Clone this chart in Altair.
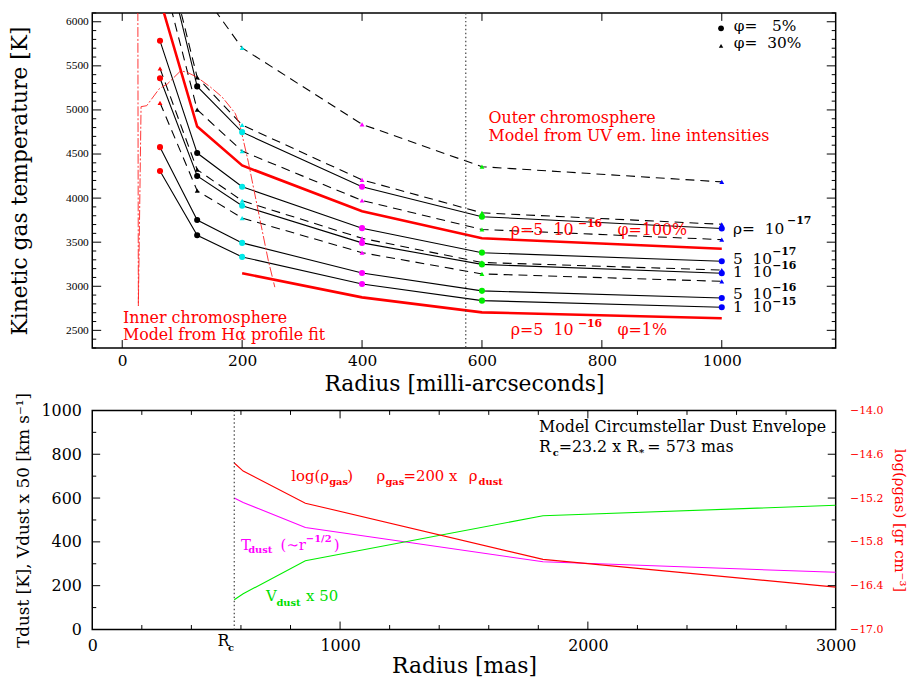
import altair as alt
import pandas as pd

FONT = "DejaVu Serif"
W = 750
H_TOP = 338
H_BOT = 221

# ---------------- top panel data ----------------
radii_mas = [63, 125, 200, 400, 600, 1000]
density_names = ["1e-17", "5e-17", "1e-16", "5e-16", "1e-15"]
# phi = 5 %  (solid lines, circles)
T_phi5 = [
    [7000, 5267, 4748, 4129, 3789, 3656],
    [5784, 4511, 4129, 3659, 3381, 3284],
    [5359, 4251, 3914, 3492, 3248, 3148],
    [4578, 3751, 3492, 3151, 2948, 2867],
    [4307, 3578, 3333, 3026, 2837, 2762],
]
# phi = 30 %  (dashed lines, triangles)
T_phi30 = [
    [None, 6410, 5703, 4837, 4356, 4184],
    [7070, 5370, 4829, 4207, 3833, 3703],
    [6640, 5003, 4533, 3973, 3644, 3529],
    [5470, 4322, 3970, 3544, 3270, 3184],
    [5081, 4084, 3774, 3381, 3140, 3056],
]
T_rho5e16_phi100 = [6254, 4811, 4370, 3852, 3544, 3426]
T_rho5e16_phi1 = [None, None, 3148, 2874, 2704, 2637]
radius_colors = ["#ff0000", "#000000", "#00e8e8", "#ff00ff", "#00ee00", "#0000ff"]

halpha_r = [26.0, 26.9, 31.4, 40.8, 61.7, 75.5, 97.5, 108.6, 125.1, 147.1,
            166.4, 177.4, 188.4, 196.7, 210.4, 226.9, 243.5, 254.5]
halpha_T = [6300, 2778, 5037, 5048, 5240, 5296, 5444, 5426, 5370, 5259,
            5148, 5056, 4962, 4814, 4407, 3851, 3296, 2990]

Rc_mas = [573]

top_x_ticks = [0, 200, 400, 600, 800, 1000]
top_y_major = [2500, 3000, 3500, 4000, 4500, 5000, 5500, 6000]
top_y_minor = [v for v in range(2300, 6101, 100) if v % 500 != 0]

# ---------------- bottom panel data ----------------
r_dust = [573, 609, 860, 1819, 3000]
T_dust = [600, 580, 466, 309, 261]
V_dust_x50 = [136, 163, 314, 519, 567]
log_rho_gas = [-14.72, -14.83, -15.27, -16.04, -16.42]

bot_x_labels = [0, 1000, 2000, 3000]
bot_x_major = [1000, 2000]
bot_x_minor = [v for v in range(200, 3000, 200) if v % 1000 != 0]
bot_y_labels = [0, 200, 400, 600, 800, 1000]
bot_y_major = [200, 400, 600, 800]
bot_y_minor = [100, 300, 500, 700, 900]
rho_labels = [-14.0, -14.6, -15.2, -15.8, -16.4, -17.0]


def long_df(tables, names):
    rows = []
    for name, vals in zip(names, tables):
        for r, t in zip(radii_mas, vals):
            if t is not None:
                rows.append({"series": name, "r": r, "rk": str(r), "T": t})
    return pd.DataFrame(rows)


df5 = long_df(T_phi5, density_names)
df30 = long_df(T_phi30, density_names)
dfred = long_df([T_rho5e16_phi100, T_rho5e16_phi1], ["phi100", "phi1"])
dfha = pd.DataFrame({"i": list(range(len(halpha_r))), "r": halpha_r, "T": halpha_T})

xs_top = alt.Scale(domain=[-50, 1190], nice=False, zero=False)
ys_top = alt.Scale(domain=[2300, 6100], nice=False, zero=False)

x_top_axis = alt.Axis(values=top_x_ticks, format="d", ticks=False, domain=False, grid=False,
                      labelFlush=False, labelFont=FONT, labelFontSize=15.5, labelColor="black",
                      labelPadding=6, title="Radius [milli-arcseconds]", titleFont=FONT,
                      titleFontSize=22, titleFontWeight="normal", titleColor="black", titlePadding=4)
y_top_axis = alt.Axis(values=top_y_major, format="d", ticks=False, domain=False, grid=False,
                      labelFlush=False, labelFont="Liberation Serif", labelFontSize=11.5,
                      labelColor="black", labelPadding=4, title="Kinetic gas temperature [K]",
                      titleFont=FONT, titleFontSize=22, titleFontWeight="normal",
                      titleColor="black", titlePadding=34)

xs_bot = alt.Scale(domain=[0, 3000], nice=False, zero=False)
ys_bot = alt.Scale(domain=[0, 1000], nice=False, zero=False)
ys_rho = alt.Scale(domain=[-17, -14], nice=False, zero=False)

x_bot_axis = alt.Axis(values=bot_x_labels, format="d", ticks=False, domain=False, grid=False,
                      labelFlush=False, labelFont=FONT, labelFontSize=16, labelColor="black",
                      labelPadding=8, title="Radius [mas]", titleFont=FONT, titleFontSize=22,
                      titleFontWeight="normal", titleColor="black", titlePadding=2)
y_bot_axis = alt.Axis(orient="left", values=bot_y_labels, format="d", ticks=False, domain=False,
                      grid=False, labelFlush=False, labelFont=FONT, labelFontSize=16,
                      labelColor="black", labelPadding=11,
                      title="Tdust [K], Vdust x 50 [km s\u207b\u00b9]", titleFont=FONT,
                      titleFontSize=17, titleFontWeight="normal", titleColor="black", titlePadding=9)
y_rho_axis = alt.Axis(orient="right", values=rho_labels, format=".1f", ticks=False, domain=False,
                      grid=False, labelFlush=False, labelFont=FONT, labelFontSize=11,
                      labelColor="#ff0000", labelPadding=14,
                      title="log(\u03c1gas) [gr cm\u207b\u00b3]", titleFont=FONT, titleFontSize=15,
                      titleFontWeight="normal", titleColor="#ff0000", titlePadding=9)

PANELS = {
    "top": dict(xs=xs_top, ys=ys_top, xa=x_top_axis, ya=y_top_axis),
    "bot": dict(xs=xs_bot, ys=ys_bot, xa=x_bot_axis, ya=None),
}


def enc_x(panel, field="r"):
    p = PANELS[panel]
    return alt.X(f"{field}:Q", scale=p["xs"], axis=p["xa"])


def enc_y(panel, field="T"):
    p = PANELS[panel]
    return alt.Y(f"{field}:Q", scale=p["ys"], axis=p["ya"])


rcolor = alt.Color("rk:N", scale=alt.Scale(domain=[str(r) for r in radii_mas], range=radius_colors), legend=None)

solid = alt.Chart(df5).mark_line(color="black", strokeWidth=1.1, clip=True).encode(
    enc_x("top"), enc_y("top"), detail="series:N")
dashed = alt.Chart(df30).mark_line(color="black", strokeWidth=1.1, strokeDash=[9, 6], clip=True).encode(
    enc_x("top"), enc_y("top"), detail="series:N")
redthick = alt.Chart(dfred).mark_line(color="#ff0000", strokeWidth=2.6, clip=True).encode(
    enc_x("top"), enc_y("top"), detail="series:N")
halpha = alt.Chart(dfha).mark_line(color="#ff2020", strokeWidth=0.9, strokeDash=[10, 2, 2, 2], clip=True).encode(
    enc_x("top"), enc_y("top"), order="i:Q")
pts5 = alt.Chart(df5).mark_point(shape="circle", filled=True, size=38, opacity=1, clip=True).encode(
    enc_x("top"), enc_y("top"), color=rcolor)
pts30 = alt.Chart(df30).mark_point(shape="triangle-up", filled=True, size=24, opacity=1, clip=True).encode(
    enc_x("top"), enc_y("top"), color=rcolor)
rc_top = alt.Chart(pd.DataFrame({"r": Rc_mas})).mark_rule(
    color="#444", strokeDash=[1.5, 2.5], strokeWidth=1.2).encode(enc_x("top"))


def tick_rules(panel, vals, field, a, b, horizontal):
    d = pd.DataFrame({field: vals})
    if horizontal:  # ticks on left/right edge, positioned along y
        return alt.Chart(d).mark_rule(color="black", strokeWidth=1).encode(
            y=enc_y(panel, field), x=alt.value(a), x2=alt.value(b))
    return alt.Chart(d).mark_rule(color="black", strokeWidth=1).encode(
        x=enc_x(panel, field), y=alt.value(a), y2=alt.value(b))


top_ticks = [
    tick_rules("top", top_x_ticks, "r", H_TOP, H_TOP - 8, False),
    tick_rules("top", top_x_ticks, "r", 0, 8, False),
    tick_rules("top", top_y_major, "T", 0, 9, True),
    tick_rules("top", top_y_major, "T", W, W - 9, True),
    tick_rules("top", top_y_minor, "T", 0, 4, True),
    tick_rules("top", top_y_minor, "T", W, W - 4, True),
]


def text_layer(panel, labels, xv, yv, color, size, weight="normal"):
    d = pd.DataFrame({"label": labels, "r": xv, "T": yv})
    return alt.Chart(d).mark_text(align="left", baseline="alphabetic", font=FONT, fontSize=size,
                                  fontWeight=weight, color=color).encode(
        x=enc_x(panel), y=enc_y(panel), text="label:N")


NB = "\u00a0"
top_red_text = text_layer(
    "top",
    ["Outer chromosphere", "Model from UV em. line intensities", "Inner chromosphere",
     "Model from H\u03b1 profile fit", "\u03c1=5" + NB * 2 + "10", "\u03c6=100%",
     "\u03c1=5" + NB * 2 + "10", "\u03c6=1%"],
    [611, 611, 1.2, 1.2, 648, 826, 648, 826],
    [4851, 4648, 2588, 2396, 3581, 3581, 2451, 2451], "#ff0000", 16)
top_red_sup = text_layer("top", ["\u221216", "\u221216"], [760, 760], [3667, 2537], "#ff0000", 11, "bold")
top_black_text = text_layer(
    "top",
    ["\u03c1=" + NB * 2 + "10", "5" + NB * 2 + "10", "1" + NB * 2 + "10", "5" + NB * 2 + "10",
     "1" + NB * 2 + "10", "\u03c6=" + NB * 3 + "5%", "\u03c6=" + NB * 2 + "30%"],
    [1018.7, 1018.7, 1018.7, 1018.7, 1018.7, 1020, 1020],
    [3592, 3252, 3100, 2855, 2708, 5892, 5703], "black", 15.5)
top_black_sup = text_layer("top", ["\u221217", "\u221217", "\u221216", "\u221216", "\u221215"],
                           [1109, 1084, 1084, 1084, 1084],
                           [3703, 3352, 3200, 2948, 2793], "black", 11, "bold")
leg_c = alt.Chart(pd.DataFrame({"r": [998.8], "T": [5926]})).mark_point(
    shape="circle", filled=True, size=34, color="black", opacity=1).encode(enc_x("top"), enc_y("top"))
leg_t = alt.Chart(pd.DataFrame({"r": [998.8], "T": [5726]})).mark_point(
    shape="triangle-up", filled=True, size=20, color="black", opacity=1).encode(enc_x("top"), enc_y("top"))

top = alt.layer(solid, dashed, redthick, halpha, rc_top, pts5, pts30, *top_ticks,
                top_red_text, top_red_sup, top_black_text, top_black_sup, leg_c, leg_t
                ).properties(width=W, height=H_TOP)

# ---------------- bottom panel ----------------
dfd = pd.DataFrame({"r": r_dust + r_dust, "val": T_dust + V_dust_x50, "q": ["T"] * 5 + ["V"] * 5})
dfr = pd.DataFrame({"r": r_dust, "lr": log_rho_gas})

dust_lines = alt.Chart(dfd).mark_line(strokeWidth=1.1, clip=True).encode(
    x=enc_x("bot"),
    y=alt.Y("val:Q", scale=ys_bot, axis=y_bot_axis),
    color=alt.Color("q:N", scale=alt.Scale(domain=["T", "V"], range=["#ff00ff", "#00ee00"]), legend=None),
    detail="q:N")
rho_line = alt.Chart(dfr).mark_line(color="#ff0000", strokeWidth=1.1, clip=True).encode(
    x=enc_x("bot"),
    y=alt.Y("lr:Q", scale=ys_rho, axis=y_rho_axis))
rc_bot = alt.Chart(pd.DataFrame({"r": Rc_mas})).mark_rule(
    color="#444", strokeDash=[1.5, 2.5], strokeWidth=1.2).encode(x=enc_x("bot"))

bot_ticks = [
    tick_rules("bot", bot_x_major, "r", H_BOT, H_BOT - 8, False),
    tick_rules("bot", bot_x_major, "r", 0, 8, False),
    tick_rules("bot", bot_x_minor, "r", H_BOT, H_BOT - 4.5, False),
    tick_rules("bot", bot_x_minor, "r", 0, 4.5, False),
    tick_rules("bot", bot_y_major, "T", 0, 8, True),
    tick_rules("bot", bot_y_major, "T", W, W - 8, True),
    tick_rules("bot", bot_y_minor, "T", 0, 4, True),
    tick_rules("bot", bot_y_minor, "T", W, W - 4, True),
]

bot_black = text_layer("bot", ["Model Circumstellar Dust Envelope", "R", "=23.2 x R", "=" + NB + "573 mas", "R"],
                       [1803, 1803, 1882, 2240, 505], [902, 811, 811, 811, -77], "black", 16)
bot_black_sub = text_layer("bot", ["c", "*", "c"], [1858, 2206, 548], [792, 792, -100], "black", 10, "bold")
bot_red = text_layer("bot", ["log(\u03c1", ")", "\u03c1", "=200 x", "\u03c1"],
                     [803, 1029, 1147, 1256, 1519], [679, 679, 679, 679, 679], "#ff0000", 15)
bot_red_sub = text_layer("bot", ["gas", "gas", "dust"], [956, 1183, 1559], [659, 659, 659], "#ff0000", 10, "bold")
bot_mag = text_layer("bot", ["T", "(\u223cr", ")"], [600, 760, 975], [365, 365, 365], "#ff00ff", 15)
bot_mag_s = text_layer("bot", ["dust", "\u22121/2"], [629, 862], [347, 400], "#ff00ff", 10, "bold")
bot_grn = text_layer("bot", ["V", "x 50"], [701, 863], [128, 128], "#00dd00", 15)
bot_grn_s = text_layer("bot", ["dust"], [743], [109], "#00dd00", 10, "bold")

bottom = alt.layer(dust_lines, rho_line, rc_bot, *bot_ticks, bot_black, bot_black_sub, bot_red,
                   bot_red_sub, bot_mag, bot_mag_s, bot_grn, bot_grn_s
                   ).resolve_scale(y="independent").properties(width=W, height=H_BOT)

chart = alt.vconcat(top, bottom, spacing=63, bounds="flush").resolve_scale(
    color="independent", x="independent", y="independent"
).properties(
    padding={"left": 0, "top": 0, "right": 5, "bottom": 5}, background="white"
).configure_view(stroke="black", strokeWidth=1.5)

chart.save("out.html", embed_options={"renderer": "svg", "actions": False})
